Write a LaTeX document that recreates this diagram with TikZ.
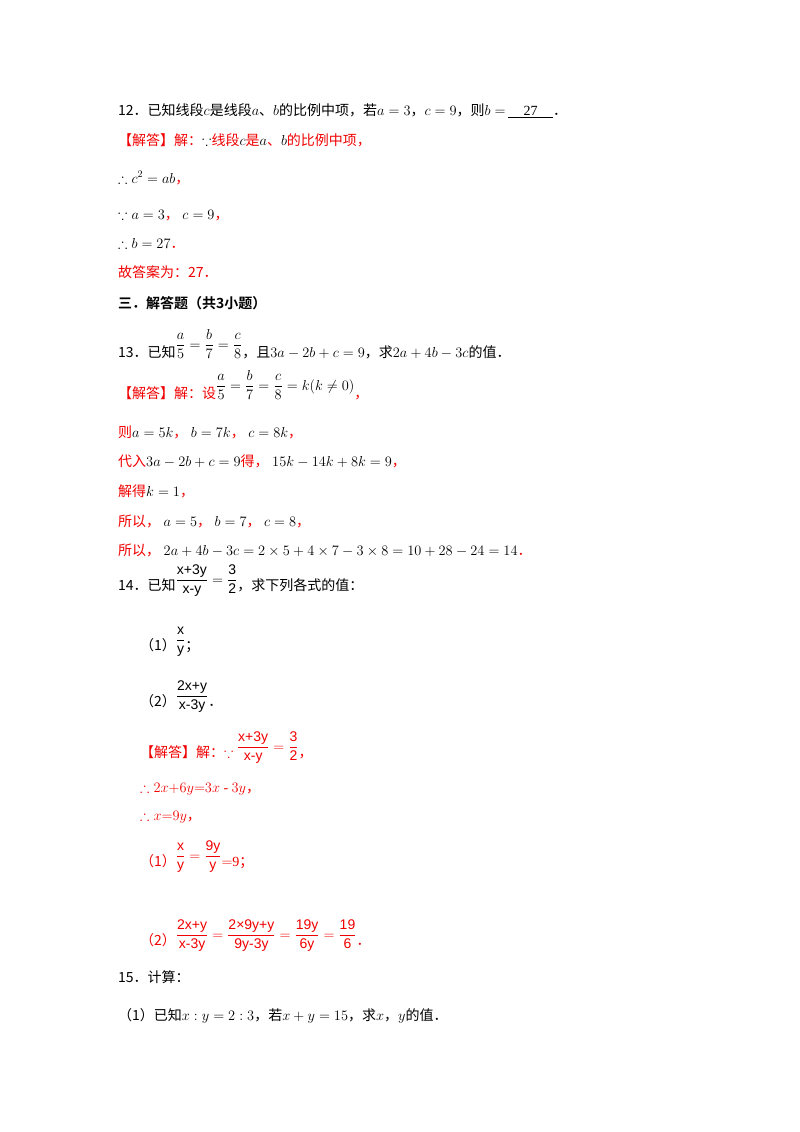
\documentclass[tikz,border=0pt]{standalone}
\usepackage{amsmath,amssymb}
\usepackage{fontspec}
\setmainfont{Liberation Serif}
\newfontfamily\cjk{Noto Sans CJK SC}
\newfontfamily\cjkb{Noto Sans CJK SC Bold}
\newfontfamily\sfx{Liberation Sans}
\definecolor{ansred}{RGB}{240,0,0}
\tikzset{t/.style={anchor=base west,inner sep=0pt,font=\fontsize{14}{16}\selectfont}}
\newcommand{\cz}[1]{{\cjk #1}}
\newcommand{\rz}[1]{{\color{ansred}\cjk #1}}
\newcommand{\sv}[1]{\text{\sfx #1}}
\begin{document}
\begin{tikzpicture}[x=1pt,y=-1pt]
\useasboundingbox (0,0) rectangle (800,1132);
\node[t] (l1) at (118,115) {\cz{12．已知线段}$c$\cz{是线段}$a$\cz{、}$b$\cz{的比例中项，若}$a=3$\cz{，}$c=9$\cz{，则}$b=$\,\underline{\hbox to 45pt{\hfil 27\hfil}}\cz{．}};
\node[t] (l2) at (118,145) {\rz{【解答】解：}$\because$\rz{线段}$c$\rz{是}$a$\rz{、}$b$\rz{的比例中项，}};
\node[t] (l3) at (118,183) {$\therefore c^2=ab$\rz{，}};
\node[t] (l4) at (118,219) {$\because a=3$\rz{，}\ $c=9$\rz{，}};
\node[t] (l5) at (118,248) {$\therefore b=27$\rz{．}};
\node[t] (l6) at (118,277) {\rz{故答案为：27．}};
\node[t] (l7) at (118,308) {{\cjkb 三．解答题（共3小题）}};
\node[t] (l8) at (118,357) {\cz{13．已知}\raisebox{8pt}{$\dfrac{a}{5}=\dfrac{b}{7}=\dfrac{c}{8}$}\cz{，且}$3a-2b+c=9$\cz{，求}$2a+4b-3c$\cz{的值．}};
\node[t] (l9) at (118,398) {\rz{【解答】解：设}\raisebox{8pt}{$\dfrac{a}{5}=\dfrac{b}{7}=\dfrac{c}{8}=k(k\neq0)$}\rz{，}};
\node[t] (l10) at (118,437) {\rz{则}$a=5k$\rz{，}\ $b=7k$\rz{，}\ $c=8k$\rz{，}};
\node[t] (l11) at (118,466) {\rz{代入}$3a-2b+c=9$\rz{得，}\ $15k-14k+8k=9$\rz{，}};
\node[t] (l12) at (118,496) {\rz{解得}$k=1$\rz{，}};
\node[t] (l13) at (118,526) {\rz{所以，}\ $a=5$\rz{，}\ $b=7$\rz{，}\ $c=8$\rz{，}};
\node[t] (l14) at (118,555) {\rz{所以，}\ $2a+4b-3c=2\times5+4\times7-3\times8=10+28-24=14$\rz{．}};
\node[t] (l15) at (118,590) {\cz{14．已知}\raisebox{6pt}{$\dfrac{\sv{x+3y}}{\sv{x-y}}=\dfrac{\sv{3}}{\sv{2}}$}\cz{，求下列各式的值：}};
\node[t] (l16) at (140,650) {\cz{（1）}\raisebox{6pt}{$\dfrac{\sv{x}}{\sv{y}}$}\cz{；}};
\node[t] (l17) at (140,706) {\cz{（2）}\raisebox{6pt}{$\dfrac{\sv{2x+y}}{\sv{x-3y}}$}\cz{．}};
\node[t,text=ansred] (l18) at (140,757) {\cz{【解答】解：}$\because$\ \raisebox{6pt}{$\dfrac{\sv{x+3y}}{\sv{x-y}}=\dfrac{\sv{3}}{\sv{2}}$}\cz{，}};
\node[t,text=ansred] (l19) at (140,792) {$\boldsymbol{\therefore}2x{+}6y{=}3x$ - $3y$\cz{，}};
\node[t,text=ansred] (l20) at (140,820) {$\boldsymbol{\therefore}x{=}9y$\cz{，}};
\node[t,text=ansred] (l21) at (140,866) {\cz{（1）}\raisebox{6pt}{$\dfrac{\sv{x}}{\sv{y}}=\dfrac{\sv{9y}}{\sv{y}}$}$=$9\cz{；}};
\node[t,text=ansred] (l22) at (140,945) {\cz{（2）}\raisebox{6pt}{$\dfrac{\sv{2x+y}}{\sv{x-3y}}=\dfrac{\sv{2×9y+y}}{\sv{9y-3y}}=\dfrac{\sv{19y}}{\sv{6y}}=\dfrac{\sv{19}}{\sv{6}}$}\cz{．}};
\node[t] (l23) at (118,982) {\cz{15．计算：}};
\node[t] (l24) at (118,1020) {\cz{（1）已知}$x:y=2:3$\cz{，若}$x+y=15$\cz{，求}$x$\cz{，}$y$\cz{的值．}};
\end{tikzpicture}
\end{document}
